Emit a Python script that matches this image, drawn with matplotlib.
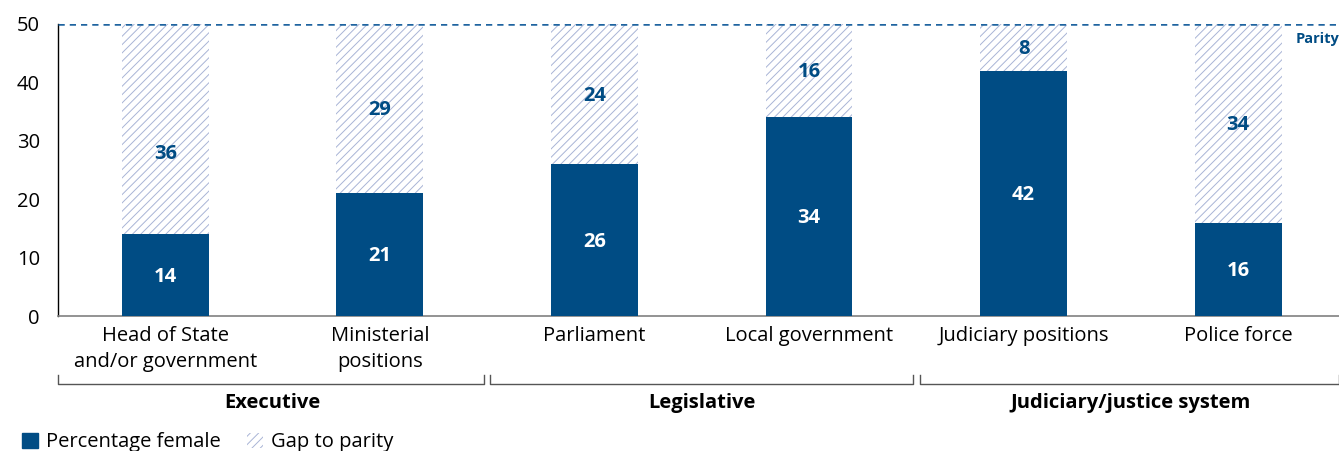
import matplotlib.pyplot as plt
from matplotlib.patches import Patch
import matplotlib.transforms as mtransforms

plt.rcParams['font.family'] = ['Open Sans', 'DejaVu Sans']
plt.rcParams['hatch.linewidth'] = 0.7

# Data
categories = ['Head of State\nand/or government', 'Ministerial\npositions', 'Parliament',
              'Local government', 'Judiciary positions', 'Police force']
female = [14, 21, 26, 34, 42, 16]
gap = [36, 29, 24, 16, 8, 34]
groups = ['Executive', 'Legislative', 'Judiciary/justice system']
parity = 50

dark_blue = '#004C84'
hatch_col = '#A9B4D6'

fig = plt.figure(figsize=(13.39, 4.51), dpi=100)
ax = fig.add_axes([0.0433, 0.2993, 0.9567, 0.6475])

x = list(range(len(categories)))
w = 0.405
ax.bar(x, female, width=w, color=dark_blue, zorder=3)
ax.bar(x, gap, width=w, bottom=female, color='white', edgecolor=hatch_col,
       hatch='////', linewidth=0, zorder=2)

# value labels
for i in x:
    ax.text(i, female[i] / 2 - 0.3, str(female[i]), ha='center', va='center',
            color='white', fontsize=14.5, fontweight='bold', zorder=4)
    ypos = female[i] + gap[i] / 2
    if i == 0:
        ypos = 28  # label sits lower in the original
    ax.text(i, ypos - 0.3, str(gap[i]), ha='center', va='center',
            color=dark_blue, fontsize=14.5, fontweight='bold', zorder=4)

# parity line
ax.axhline(parity, color='#1F64A0', linestyle=(0, (2.5, 2)), linewidth=1.8, zorder=5)
ax.text(5.47, parity - 2.5, 'Parity', ha='right', va='center', color=dark_blue,
        fontsize=10.5, fontweight='bold')

ax.set_xlim(-0.5, 5.47)
ax.set_ylim(0, 50)
ax.set_yticks([0, 10, 20, 30, 40, 50])
ax.tick_params(axis='y', length=0, labelsize=14.5, pad=13)
ax.tick_params(axis='x', length=0, labelsize=14.5, pad=7)
ax.set_xticks(x)
ax.set_xticklabels(categories, linespacing=1.42)

for s in ['top', 'right']:
    ax.spines[s].set_visible(False)
ax.spines['left'].set_color('black')
ax.spines['left'].set_linewidth(1.0)
ax.spines['bottom'].set_color('#808080')
ax.spines['bottom'].set_linewidth(1.2)

# group brackets
trans = mtransforms.blended_transform_factory(ax.transData, ax.transAxes)
bracket_x = [(-0.5, 1.485), (1.515, 3.485), (3.515, 5.47)]
label_x = [0.5, 2.5, 4.5]
for (x0, x1), lx, name in zip(bracket_x, label_x, groups):
    ax.plot([x0, x0, x1, x1], [-0.203, -0.234, -0.234, -0.203], color='#555555',
            linewidth=1.0, transform=trans, clip_on=False)
    ax.text(lx, -0.298, name, ha='center', va='center', fontsize=14.5,
            fontweight='bold', transform=trans)

# legend
handles = [Patch(facecolor=dark_blue, edgecolor=dark_blue, label='Percentage female'),
           Patch(facecolor='white', edgecolor=hatch_col, hatch='////', linewidth=0,
                 label='Gap to parity')]
fig.legend(handles=handles, loc='lower left', bbox_to_anchor=(0.003, -0.043), ncol=2,
           frameon=False, fontsize=14.5, handlelength=0.8, handleheight=0.8,
           handletextpad=0.4, columnspacing=1.3)

fig.savefig('out.png', dpi=100)
